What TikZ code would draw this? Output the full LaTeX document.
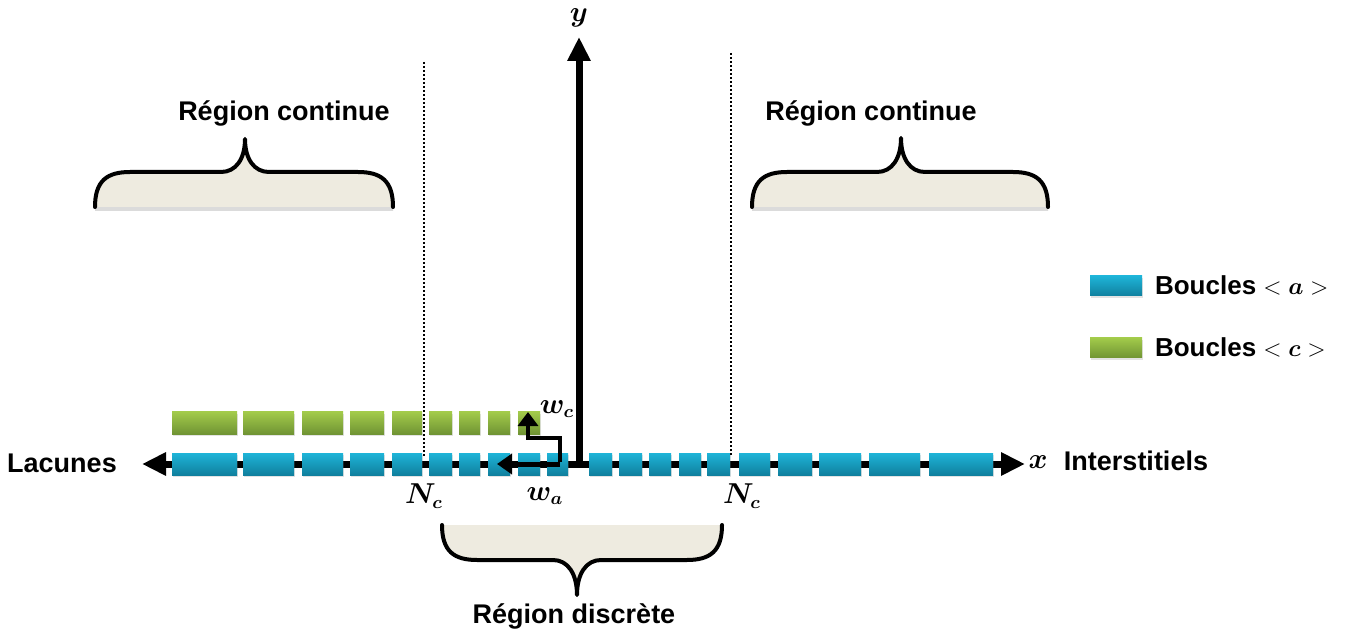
\documentclass[tikz,border=0pt]{standalone}
\usepackage{fontspec}
\setmainfont{Liberation Sans}
\usepackage{bm}
\usetikzlibrary{arrows.meta,shadows}
\definecolor{blueT}{RGB}{30,180,216}
\definecolor{blueB}{RGB}{16,128,158}
\definecolor{greenT}{RGB}{162,202,74}
\definecolor{greenB}{RGB}{112,148,52}
\definecolor{beige}{RGB}{238,235,224}
% L R M yb yh yp
\newcommand\mybrace[6]{%
  \fill[black,opacity=0.14] (#1,#4) .. controls (#1,{#5+0.25*(#4-#5)}) and ({#1+12},#5) .. ({#1+35},#5) -- ({#3-24},#5) .. controls ({#3-9},#5) and (#3,{#5+0.4*(#6-#5)}) .. (#3,#6) .. controls (#3,{#5+0.4*(#6-#5)}) and ({#3+9},#5) .. ({#3+24},#5) -- ({#2-35},#5) .. controls ({#2-12},#5) and (#2,{#5+0.25*(#4-#5)}) .. (#2,#4) -- ([yshift=-2pt]#2,#4) -- ([yshift=-2pt]#1,#4) -- cycle;
  \fill[beige] (#1,#4) .. controls (#1,{#5+0.25*(#4-#5)}) and ({#1+12},#5) .. ({#1+35},#5) -- ({#3-24},#5) .. controls ({#3-9},#5) and (#3,{#5+0.4*(#6-#5)}) .. (#3,#6) .. controls (#3,{#5+0.4*(#6-#5)}) and ({#3+9},#5) .. ({#3+24},#5) -- ({#2-35},#5) .. controls ({#2-12},#5) and (#2,{#5+0.25*(#4-#5)}) .. (#2,#4) -- cycle;
  \draw[bracestroke] (#1,#4) .. controls (#1,{#5+0.25*(#4-#5)}) and ({#1+12},#5) .. ({#1+35},#5) -- ({#3-24},#5) .. controls ({#3-9},#5) and (#3,{#5+0.4*(#6-#5)}) .. (#3,#6) .. controls (#3,{#5+0.4*(#6-#5)}) and ({#3+9},#5) .. ({#3+24},#5) -- ({#2-35},#5) .. controls ({#2-12},#5) and (#2,{#5+0.25*(#4-#5)}) .. (#2,#4);
}
\begin{document}
\begin{tikzpicture}[x=0.5pt,y=-0.5pt,
  font=\fontsize{13.5}{16}\selectfont\bfseries,
  bracestroke/.style={line width=2pt, line cap=round, line join=round},
  axisline/.style={line width=3.5pt},
  tipA/.tip={Triangle[length=12pt,width=11pt]},
  seg/.style={inner sep=0pt, outer sep=0pt, minimum height=11pt,
     drop shadow={shadow xshift=0.6pt, shadow yshift=-1.2pt, opacity=0.22}},
  bluebox/.style={seg, top color=blueT, bottom color=blueB},
  greenbox/.style={seg, top color=greenT, bottom color=greenB},
  mathlbl/.style={font=\fontsize{13.5}{16}\selectfont},
  legendtext/.style={anchor=west, font=\fontsize{13}{15}\selectfont\bfseries},
  dottedline/.style={line width=1pt, dash pattern=on 1pt off 1pt},
  warrow/.style={line width=2.5pt, -{Triangle[length=7.5pt,width=10pt]}},
  wcarrow/.style={line width=2pt, line join=miter, -{Triangle[length=7pt,width=10pt]}}
]
\fill[white] (0,0) rectangle (1361,636);
\useasboundingbox (0,0) rectangle (1361,636);

% braces
\mybrace{95}{393}{245}{207}{172}{139}
\mybrace{752}{1048}{901}{207}{172}{138}
\mybrace{442}{722}{577}{525}{560}{595}

% axes
\coordinate (O) at (579,464);
\coordinate (xl) at (142,464);
\coordinate (xr) at (1025,464);
\coordinate (yt) at (579,37);
\draw[axisline, tipA-tipA] (xl) -- (xr);
\draw[axisline, -tipA] (O) -- (yt);

% blue segments
\foreach \a/\b [count=\i] in {172/237,243/294,302/343,350/384,392/422,429/452,459/480,488/510,518/540,547/568,589/612,619/642,649/671,679/701,707/730,739/770,778/812,819/861,869/920,929/993}{
  \pgfmathsetmacro\w{(\b-\a)*0.5}
  \node[bluebox, minimum width=\w pt] (bl\i) at ({(\a+\b)/2},464) {};
}
% green segments
\foreach \a/\b [count=\i] in {172/237,243/294,302/343,350/384,392/422,429/452,459/480,488/510,518/540}{
  \pgfmathsetmacro\w{(\b-\a)*0.5}
  \node[greenbox, minimum width=\w pt] (gr\i) at ({(\a+\b)/2},423) {};
}

% dotted lines
\coordinate (d1t) at (424,62);
\coordinate (d1b) at (424,458);
\coordinate (d2t) at (731,53);
\coordinate (d2b) at (731,455);
\draw[dottedline] (d1t) -- (d1b);
\draw[dottedline] (d2t) -- (d2b);

% w arrows
\coordinate (S) at (560,464);
\coordinate (waE) at (497,464);
\draw[warrow] (S) -- (waE);
\coordinate (wc0) at (560,462);
\coordinate (wc1) at (528,438);
\coordinate (wcE) at (528,412);
\draw[wcarrow] (wc0) |- (wc1) -- (wcE);

% labels
\node[mathlbl, inner sep=1pt] (ylab) at (579,18) {$\bm{y}$};
\node[mathlbl] (xlab) at (1038,462) {$\bm{x}$};
\node (lac) at (62,463) {Lacunes};
\node (int) at (1136,461) {Interstitiels};
\node[mathlbl] (nc1) at (424,496) {$\bm{N_c}$};
\node[mathlbl] (nc2) at (742,496) {$\bm{N_c}$};
\node[mathlbl] (wa) at (545,496) {$\bm{w_a}$};
\node[mathlbl] (wc) at (557,409) {$\bm{w_c}$};
\node (rc1) at (284,113) {Région continue};
\node (rc2) at (871,113) {Région continue};
\node (rd) at (574,616) {Région discrète};

% legend
\node[bluebox, minimum width=26pt, minimum height=10pt] (lgb) at (1116,286) {};
\node[legendtext] (lgbt) at (1148,285) {Boucles $<\bm{a}>$};
\node[greenbox, minimum width=26pt, minimum height=10pt] (lgg) at (1116,348) {};
\node[legendtext] (lggt) at (1148,347) {Boucles $<\bm{c}>$};
\end{tikzpicture}
\end{document}
